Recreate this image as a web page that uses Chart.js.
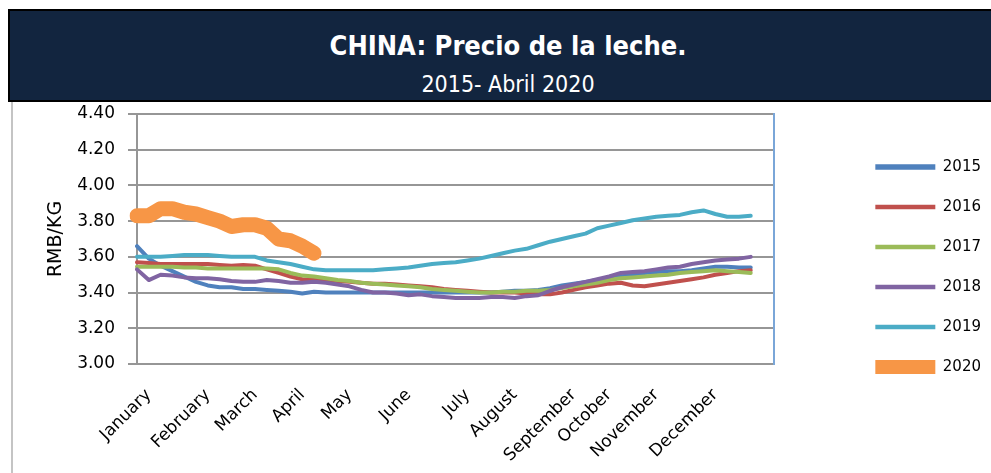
<!DOCTYPE html>
<html>
<head>
<meta charset="utf-8">
<script src="https://cdn.jsdelivr.net/npm/chart.js@4.4.0/dist/chart.umd.min.js"></script>
<style>
  html, body { margin: 0; padding: 0; background: #fff; width: 991px; height: 473px; overflow: hidden; }
  #head {
    position: absolute; left: 8px; top: 9px; width: 1000px; height: 93px;
    box-sizing: border-box; border: 2px solid #000; background: #12253f; color: #fff;
    text-align: center; font-family: "Liberation Sans Narrow", "DejaVu Sans Condensed", "Open Sans", sans-serif;
  }
  #head .t1 { position: absolute; left: 0; right: 0; top: 19px; font-size: 27px; font-weight: bold; }
  #head .t2 { position: absolute; left: 0; right: 0; top: 60px; font-size: 23px; }
  #frame { position: absolute; left: 11px; top: 102px; width: 2px; height: 371px; background: #c4c4c4; }
  #wrap { position: absolute; left: 0; top: 101px; width: 991px; height: 372px; }
</style>
</head>
<body>
<div id="head">
  <div class="t1">CHINA: Precio de la leche.</div>
  <div class="t2">2015- Abril 2020</div>
</div>
<div id="frame"></div>
<div id="wrap"><canvas id="milk" width="991" height="372"></canvas></div>
<script>
// weekly prices, RMB/KG
var years = ['2015', '2016', '2017', '2018', '2019', '2020'];
var months = ['January', 'February', 'March', 'April', 'May', 'June', 'July', 'August', 'September', 'October', 'November', 'December'];
var monthWeek = [1, 6, 10, 14, 18, 23, 28, 32, 37, 40, 44, 49];
var nWeeks = 55;

var y2015 = [3.66, 3.59, 3.55, 3.52, 3.49, 3.46, 3.44, 3.43, 3.43, 3.42,
  3.42, 3.415, 3.41, 3.405, 3.395, 3.405, 3.40, 3.40, 3.40, 3.40,
  3.40, 3.40, 3.40, 3.40, 3.40, 3.40, 3.40, 3.40, 3.40, 3.40,
  3.40, 3.405, 3.41, 3.41, 3.415, 3.425, 3.44, 3.45, 3.46, 3.47,
  3.48, 3.49, 3.50, 3.51, 3.515, 3.52, 3.52, 3.525, 3.535, 3.545,
  3.545, 3.54, 3.54];
var y2016 = [3.57, 3.565, 3.56, 3.56, 3.56, 3.56, 3.56, 3.555, 3.55, 3.555,
  3.55, 3.53, 3.51, 3.49, 3.475, 3.47, 3.47, 3.465, 3.46, 3.455,
  3.45, 3.45, 3.445, 3.44, 3.435, 3.43, 3.42, 3.415, 3.41, 3.405,
  3.40, 3.40, 3.40, 3.395, 3.39, 3.39, 3.40, 3.415, 3.43, 3.44,
  3.45, 3.455, 3.44, 3.435, 3.445, 3.455, 3.465, 3.475, 3.485, 3.50,
  3.51, 3.52, 3.525];
var y2017 = [3.545, 3.545, 3.545, 3.545, 3.54, 3.54, 3.535, 3.535, 3.535, 3.535,
  3.535, 3.535, 3.53, 3.51, 3.495, 3.49, 3.48, 3.47, 3.465, 3.455,
  3.45, 3.445, 3.44, 3.435, 3.43, 3.42, 3.415, 3.41, 3.405, 3.40,
  3.40, 3.405, 3.405, 3.41, 3.41, 3.415, 3.425, 3.435, 3.445, 3.455,
  3.47, 3.48, 3.485, 3.49, 3.495, 3.50, 3.51, 3.515, 3.52, 3.525,
  3.52, 3.515, 3.51];
var y2018 = [3.53, 3.47, 3.50, 3.495, 3.485, 3.48, 3.48, 3.475, 3.465, 3.46,
  3.46, 3.47, 3.465, 3.455, 3.455, 3.46, 3.455, 3.445, 3.435, 3.415,
  3.40, 3.40, 3.395, 3.385, 3.39, 3.38, 3.375, 3.37, 3.37, 3.37,
  3.375, 3.375, 3.37, 3.38, 3.385, 3.41, 3.43, 3.445, 3.46, 3.475,
  3.49, 3.51, 3.515, 3.52, 3.53, 3.54, 3.545, 3.56, 3.57, 3.58,
  3.585, 3.59, 3.60];
var y2019 = [3.60, 3.60, 3.60, 3.605, 3.61, 3.61, 3.61, 3.605, 3.60, 3.60,
  3.60, 3.58, 3.57, 3.56, 3.545, 3.53, 3.525, 3.525, 3.525, 3.525,
  3.525, 3.53, 3.535, 3.54, 3.55, 3.56, 3.565, 3.57, 3.58, 3.59,
  3.605, 3.62, 3.635, 3.645, 3.665, 3.685, 3.70, 3.715, 3.73, 3.76,
  3.775, 3.79, 3.805, 3.815, 3.825, 3.83, 3.835, 3.85, 3.86, 3.84,
  3.825, 3.825, 3.83];
var y2020 = [3.83, 3.83, 3.87, 3.87, 3.85, 3.84, 3.82, 3.80, 3.77, 3.78,
  3.78, 3.76, 3.70, 3.69, 3.66, 3.62];

var yTicks = [3.0, 3.2, 3.4, 3.6, 3.8, 4.0, 4.2, 4.4];

var series = [y2015, y2016, y2017, y2018, y2019, y2020];
var colors = ['#4F81BD', '#C0504D', '#9BBB59', '#8064A2', '#4BACC6', '#F79646'];
var widths = [4, 4, 4, 4, 4, 15];
var legendWidths = [5.5, 4.5, 4.5, 4.5, 4.5, 14];

var weekLabels = [];
for (var i = 0; i < nWeeks; i++) {
  var m = monthWeek.indexOf(i);
  weekLabels.push(m >= 0 ? months[m] : '');
}

var tickFont = { family: 'DejaVu Sans', size: 17 };
var gridGrey = '#969696';

var ctx = document.getElementById('milk').getContext('2d');
var chart = new Chart(ctx, {
  type: 'line',
  data: {
    labels: weekLabels,
    datasets: years.map(function (y, i) {
      return {
        label: y,
        data: series[i],
        borderColor: colors[i],
        backgroundColor: colors[i],
        borderWidth: widths[i],
        borderCapStyle: 'round',
        borderJoinStyle: 'round',
        pointRadius: 0,
        tension: 0,
        fill: false,
        order: years.length - i
      };
    })
  },
  options: {
    responsive: false,
    animation: false,
    layout: { padding: { top: 13, left: 0, right: 0, bottom: 0 } },
    plugins: {
      tooltip: { enabled: false },
      legend: {
        position: 'right',
        align: 'start',
        title: { display: true, text: '', font: { size: 12 }, padding: { top: 3, bottom: 3 } },
        labels: {
          usePointStyle: true,
          pointStyle: 'line',
          pointStyleWidth: 60,
          padding: 25,
          color: '#000',
          font: { family: 'DejaVu Sans', size: 15 },
          generateLabels: function (c) {
            return c.data.datasets.map(function (ds, i) {
              return {
                text: ds.label,
                strokeStyle: ds.borderColor,
                fillStyle: ds.borderColor,
                lineWidth: legendWidths[i],
                lineCap: 'butt',
                pointStyle: 'line',
                hidden: false,
                fontColor: '#000',
                datasetIndex: i
              };
            });
          }
        }
      }
    },
    scales: {
      x: {
        offset: false,
        grid: { display: false, drawTicks: false },
        border: { color: gridGrey, width: 2 },
        ticks: {
          autoSkip: false,
          maxRotation: 45,
          minRotation: 45,
          padding: 21,
          color: '#000',
          font: tickFont
        },
        afterFit: function (s) { s.height = 109; }
      },
      y: {
        min: yTicks[0],
        max: yTicks[yTicks.length - 1],
        afterBuildTicks: function (s) { s.ticks = yTicks.map(function (v) { return { value: v }; }); },
        ticks: {
          padding: 13,
          color: '#000',
          font: tickFont,
          callback: function (v) { return Number(v).toFixed(2); }
        },
        grid: { color: gridGrey, lineWidth: 2, tickLength: 9 },
        border: { color: gridGrey, width: 2 },
        title: {
          display: true,
          text: 'RMB/KG',
          color: '#000',
          font: { family: 'DejaVu Sans', size: 19 },
          padding: { top: 45, bottom: 0 }
        },
        afterFit: function (s) { s.width = 137; s.paddingTop = 0; s.paddingBottom = 0; }
      },
      y2: {
        position: 'right',
        ticks: { display: false },
        grid: { drawOnChartArea: false, drawTicks: false },
        border: { color: '#7aa6d8', width: 2 },
        afterFit: function (s) { s.width = 76; s.paddingTop = 0; s.paddingBottom = 0; }
      }
    }
  }
});
</script>
</body>
</html>
